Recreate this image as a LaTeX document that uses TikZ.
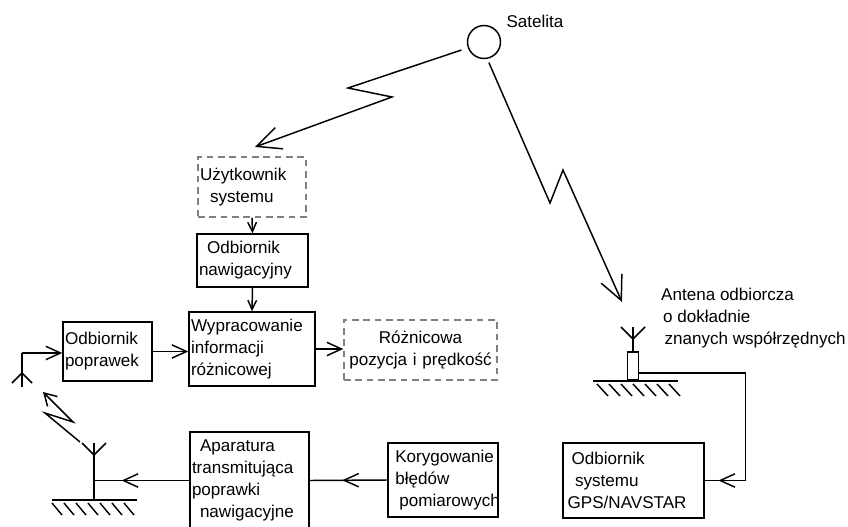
\documentclass[tikz,border=0pt]{standalone}
\usepackage{fontspec}
\setmainfont{Liberation Sans}
\usetikzlibrary{arrows.meta,calc,decorations.markings}
\definecolor{dashg}{RGB}{128,128,128}

\begin{document}
\begin{tikzpicture}[
  x=0.75pt, y=-0.75pt,
  font=\fontsize{12.8}{16.5}\selectfont,
  line width=1.1pt,
  blk/.style={draw, inner xsep=1.5pt, inner ysep=1pt, align=left},
  dbox/.style={blk, draw=dashg, dash pattern=on 5pt off 3.5pt},
  barb/.style={-{Straight Barb[length=11pt,width=10pt]}},
  sbarb/.style={-{Straight Barb[length=7pt,width=6.5pt]}},
  sig/.style={-{Straight Barb[length=18pt,width=17pt]}},
  gsig/.style={-{Straight Barb[length=9pt,width=10.5pt]}},
  midbarb/.style={postaction={decorate}, decoration={markings,
      mark=at position #1 with {\arrow{Straight Barb[length=11pt,width=10pt]}}}},
  gnd/.style={line width=2.2pt},
]
\useasboundingbox (0,0) rectangle (848,527);

% ---------- satellite and its two signals ----------
\node[circle, draw, minimum size=24.75pt, inner sep=0pt] (sat) at (484,42) {};
\node (satlbl) at (535,21) {Satelita};

\coordinate (rxu) at (255,147);
\coordinate (rxa) at (622,302);
\draw[sig, shorten <=5pt] (sat.200) -- (348,88) -- (392,97) -- (rxu);
\draw[sig, shorten <=3pt] (sat.281) -- (550,203) -- (563,170) -- (rxa);

% ---------- user side ----------
\node[dbox, text width=78pt, minimum height=45pt] (uzytk) at (252,187)
  {Użytkownik\\\hspace*{7.5pt}systemu};
\node[blk, text width=80.25pt, minimum height=39.75pt] (nawig) at (252.5,260.5)
  {\hspace*{6pt}Odbiornik\\nawigacyjny};
\node[blk, text width=91.5pt, minimum height=55.5pt] (wypr) at (252,349)
  {Wypracowanie\\informacji\\różnicowej};
\node[blk, text width=63.75pt, minimum height=44.25pt] (odpopr) at (107.5,351.5)
  {Odbiornik\\poprawek};
\node[dbox, align=center, text width=111.75pt, minimum height=45pt] (rozn) at (420.5,350)
  {Różnicowa\\pozycja i prędkość};

\draw[sbarb] (uzytk.south) -- (nawig.north);
\draw[sbarb] (nawig.south) -- (wypr.north);
\draw[barb] (odpopr.east) -- (odpopr.east -| wypr.west);
\draw[barb] (wypr.east) -- (wypr.east -| rozn.west);

% ---------- receiving antenna of correction receiver ----------
\coordinate (lant) at (22,353);
\draw (lant) -- (22,387);
\draw (12,383) -- (22,373) -- (32,383);
\draw[barb] (lant) -- (lant -| odpopr.west);

% ---------- reference station ----------
\node[draw, minimum width=8.25pt, minimum height=21pt, inner sep=0pt] (antbox) at (633,366) {};
\draw (621,327) -- (633,339) -- (645,327);
\draw (633,327) -- (antbox.north);
\draw[gnd] (593,381) -- (678,381);
\foreach \x in {597,609,...,669} \draw (\x,384) -- ++(11,12);
\node[align=left, anchor=west] (antlbl) at (656,318)
  {Antena odbiorcza\\\hspace*{1.5pt}o dokładnie\\\hspace*{2.5pt}znanych współrzędnych};

\node[blk, text width=102.75pt, minimum height=56.25pt] (gps) at (633.5,480.5)
  {\hspace*{5pt}Odbiornik\\\hspace*{7.5pt}systemu\\\hspace*{2pt}GPS/NAVSTAR};
\node[blk, text width=79.5pt, minimum height=55.5pt] (koryg) at (443,480)
  {\hspace*{4pt}\mbox{Korygowanie}\\\hspace*{4pt}błędów\\\hspace*{7pt}\mbox{pomiarowych}};
\node[blk, text width=86.25pt, minimum height=72.75pt] (apar) at (249.5,480.5)
  {\hspace*{6pt}Aparatura\\transmitująca\\poprawki\\\hspace*{6pt}nawigacyjne};

\draw[midbarb=0.946] ($(antbox.east)+(0,7)$) -- ++(106,0) |- (gps.east);
\draw[midbarb=0.58] (koryg.west) -- (apar.east);

% ---------- transmitting antenna ----------
\coordinate (gant) at (94,443);
\draw (82,443) -- (94,455) -- (106,443);
\draw (gant) -- (94,500);
\draw[gnd] (52,500) -- (137,500);
\foreach \x in {52,64,...,124} \draw (\x,503) -- ++(10,12);
\draw[midbarb=0.71] (apar.west) -- (apar.west -| gant);

\coordinate (gtx) at (80,442);
\coordinate (grx) at (43,392);
\draw[gsig] (gtx) -- (45,413) -- (73,422) -- (grx);

\end{tikzpicture}
\end{document}
